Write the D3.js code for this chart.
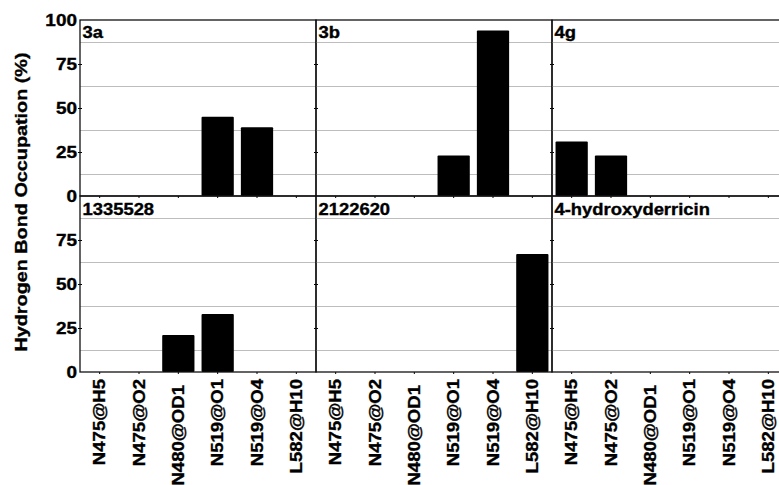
<!DOCTYPE html>
<html>
<head>
<meta charset="utf-8">
<script src="https://cdn.jsdelivr.net/npm/d3@7"></script>
<style>
  body { margin: 0; background: #fff; }
  svg { display: block; font-family: "Liberation Sans", Arial, sans-serif; font-weight: bold; }
  svg text { stroke: #000; stroke-width: 0.35px; }
</style>
</head>
<body>
<div class="chart"></div>
<script>
// categories (x axis, shared by all panels)
const categories = ["N475@H5", "N475@O2", "N480@OD1", "N519@O1", "N519@O4", "L582@H10"];
// panels, row by row
const panelNames = ["3a", "3b", "4g", "1335528", "2122620", "4-hydroxyderricin"];
// occupation (%) per panel, same order as categories
const occ3a = [0, 0, 0, 45, 39, 0];
const occ3b = [0, 0, 0, 23, 94, 0];
const occ4g = [31, 23, 0, 0, 0, 0];
const occ1335528 = [0, 0, 21, 33, 0, 0];
const occ2122620 = [0, 0, 0, 0, 0, 67];
const occHydroxy = [0, 0, 0, 0, 0, 0];
const panelValues = [occ3a, occ3b, occ4g, occ1335528, occ2122620, occHydroxy];
const yTicksTop = [0, 25, 50, 75, 100];
const yTicksBottom = [0, 25, 50, 75];
const gridValues = [12.5, 37.5, 62.5, 87.5];

const width = 779;
const height = 485;
const margin = { top: 20, left: 80 };
const panelW = 236;
const panelH = 176;
const cols = 3;
const stretch = 1.15; // text in the reference is drawn a bit wide

const xScale = d3.scaleBand()
    .domain(categories)
    .range([0, panelW])
    .paddingInner(0.18)
    .paddingOuter(0.09);

const yScale = d3.scaleLinear()
    .domain([0, 100])
    .range([panelH, 0]);

const svg = d3.select("div.chart")
    .append("svg")
    .attr("width", width)
    .attr("height", height);

panelNames.forEach((name, i) => {
    const row = Math.floor(i / cols);
    const col = i % cols;
    const values = panelValues[i];
    const g = svg.append("g")
        .attr("class", "panel")
        .attr("transform", `translate(${margin.left + col * panelW},${margin.top + row * panelH})`);

    // gray grid lines, halfway between the labelled ticks
    g.append("g")
        .attr("class", "grid")
        .call(d3.axisLeft(yScale).tickValues(gridValues).tickSize(-panelW).tickFormat(""))
        .call(s => s.select(".domain").remove())
        .call(s => s.selectAll("line").attr("stroke", "#bdbdbd").attr("stroke-width", 1.2));

    // bars
    g.append("g")
        .attr("fill", "#000")
        .selectAll("rect")
        .data(categories.map((c, j) => ({ c, v: values[j] })).filter(d => d.v > 0))
        .join("rect")
        .attr("x", d => xScale(d.c))
        .attr("y", d => yScale(d.v))
        .attr("width", xScale.bandwidth())
        .attr("height", d => yScale(0) - yScale(d.v))
        .attr("rx", 1);

    // small ticks at the left edge of each panel
    g.append("g")
        .call(d3.axisLeft(yScale).tickValues([25, 50, 75]).tickSizeInner(2).tickSizeOuter(0).tickFormat(""))
        .call(s => s.selectAll("line").attr("x2", 2).attr("x1", -2).attr("stroke", "#000"))
        .call(s => s.select(".domain").remove());

    // x axis with outward ticks
    const xAxis = g.append("g")
        .attr("transform", `translate(0,${panelH})`)
        .call(d3.axisBottom(xScale).tickSizeInner(2).tickSizeOuter(0));
    xAxis.select(".domain").remove();
    xAxis.selectAll("line").attr("stroke", "#000");
    if (row === 1) {
        xAxis.selectAll("text")
            .attr("x", 0).attr("y", 0).attr("dy", null)
            .attr("text-anchor", "end")
            .attr("fill", "#000")
            .attr("font-size", 16)
            .attr("font-family", "'Liberation Sans', Arial, sans-serif")
            .attr("font-weight", "bold")
            .attr("transform", d => `translate(5.5,${d === "N480@OD1" ? 13 : 7}) rotate(-90) scale(1.16,1)`);
    } else {
        xAxis.selectAll("text").remove();
    }

    // frame
    g.append("rect")
        .attr("width", panelW)
        .attr("height", panelH)
        .attr("fill", "none")
        .attr("stroke", "#111")
        .attr("stroke-width", 1.3);

    // panel title
    g.append("text")
        .attr("transform", `translate(2.5,${row === 0 ? 18 : 18.5}) scale(${stretch},1)`)
        .attr("font-size", 16)
        .text(name);

    // y tick labels on the first column only
    if (col === 0) {
        const yAxis = g.append("g")
            .call(d3.axisLeft(yScale).tickValues(row === 0 ? yTicksTop : yTicksBottom).tickSize(0).tickFormat(d3.format("d")));
        yAxis.select(".domain").remove();
        yAxis.selectAll("text")
            .attr("x", 0)
            .attr("dy", "0.35em")
            .attr("text-anchor", "end")
            .attr("fill", "#000")
            .attr("font-size", 16.5)
            .attr("font-family", "'Liberation Sans', Arial, sans-serif")
            .attr("font-weight", "bold")
            .attr("transform", `translate(-3,0) scale(${stretch},1)`);
    }
});

// y axis title
svg.append("text")
    .attr("transform", `translate(27,202) rotate(-90) scale(1.2,1)`)
    .attr("text-anchor", "middle")
    .attr("font-size", 16.5)
    .text("Hydrogen Bond Occupation (%)");
</script>
</body>
</html>
